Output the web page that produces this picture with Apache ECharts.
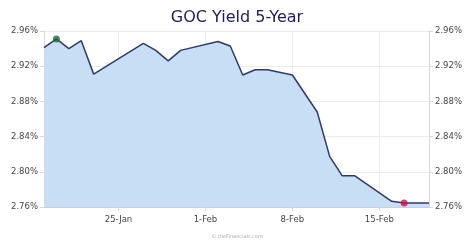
<!DOCTYPE html>
<html>
<head>
<meta charset="utf-8">
<script src="https://cdn.jsdelivr.net/npm/echarts@6/dist/echarts.min.js"></script>
<style>
  html, body { margin: 0; padding: 0; background: #fff; }
  #chart { width: 474px; height: 248px; }
</style>
</head>
<body>
<div id="chart"></div>
<script>
// GOC 5-year yield, daily closes
const dates = [
  '2026-01-19', '2026-01-20', '2026-01-21', '2026-01-22', '2026-01-23',
  '2026-01-27', '2026-01-28', '2026-01-29', '2026-01-30',
  '2026-02-02', '2026-02-03', '2026-02-04', '2026-02-05', '2026-02-06',
  '2026-02-08', '2026-02-10', '2026-02-11', '2026-02-12', '2026-02-13',
  '2026-02-16', '2026-02-17', '2026-02-19'
];
const yields = [
  2.941, 2.951, 2.940, 2.949, 2.911,
  2.946, 2.938, 2.926, 2.938,
  2.948, 2.943, 2.910, 2.916, 2.916,
  2.910, 2.868, 2.8175, 2.7956, 2.7956,
  2.7664, 2.7646, 2.7646
];
const xTickDates = ['2026-01-25', '2026-02-01', '2026-02-08', '2026-02-15'];
const xTickLabels = ['25-Jan', '1-Feb', '8-Feb', '15-Feb'];
const yTicks = [2.76, 2.80, 2.84, 2.88, 2.92, 2.96];

function dayNum(s) {
  return Math.round(Date.UTC(+s.slice(0, 4), +s.slice(5, 7) - 1, +s.slice(8, 10)) / 86400000);
}

const xs = dates.map(dayNum);
const xTickVals = xTickDates.map(dayNum);
const lineData = xs.map((x, i) => [x, yields[i]]);

const maxIdx = yields.indexOf(Math.max(...yields));
const minIdx = yields.indexOf(Math.min(...yields));

const labelFont = { color: '#444', fontSize: 8.5, fontFamily: 'DejaVu Sans' };

function yAxis(pos) {
  return {
    type: 'value',
    position: pos,
    min: yTicks[0],
    max: yTicks[yTicks.length - 1],
    interval: 0.04,
    axisLine: { show: true, lineStyle: { color: '#d8d8d8' } },
    axisTick: { show: true, length: 4, lineStyle: { color: '#d8d8d8' } },
    axisLabel: Object.assign({ margin: 6, formatter: v => v.toFixed(2) + '%' }, labelFont),
    splitLine: { show: pos === 'left', lineStyle: { color: '#ececec' } }
  };
}

const chart = echarts.init(document.getElementById('chart'));
chart.setOption({
  animation: false,
  title: {
    text: 'GOC Yield 5-Year',
    left: 'center',
    top: 5,
    textStyle: { color: '#1c1c5e', fontSize: 16, fontWeight: 'normal', fontFamily: 'DejaVu Sans' }
  },
  grid: { left: 44, right: 45, top: 31, bottom: 41 },
  xAxis: {
    type: 'value',
    min: xs[0],
    max: xs[xs.length - 1],
    axisLine: { show: true, lineStyle: { color: '#cfcfcf' } },
    axisTick: { show: true, length: 4, customValues: xTickVals, lineStyle: { color: '#d8d8d8' } },
    axisLabel: Object.assign({
      margin: 8,
      customValues: xTickVals,
      formatter: v => xTickLabels[xTickVals.indexOf(v)]
    }, labelFont),
    splitLine: { show: true, lineStyle: { color: '#ececec' } }
  },
  yAxis: [yAxis('left'), yAxis('right')],
  series: [
    {
      type: 'line',
      data: lineData,
      symbol: 'none',
      lineStyle: { color: '#2e3a6e', width: 1.5 },
      areaStyle: { color: '#c8def5', opacity: 1 },
      z: 2
    },
    {
      type: 'scatter',
      data: [
        { value: lineData[maxIdx], itemStyle: { color: '#1e6b35' } },
        { value: lineData[minIdx], itemStyle: { color: '#d0103a' } }
      ],
      symbolSize: 7,
      z: 3
    }
  ],
  graphic: [{
    type: 'text',
    left: 'center',
    top: 234,
    style: { text: '© theFinancials.com', fill: '#aaa', fontSize: 5, fontFamily: 'DejaVu Sans' }
  }]
});
</script>
</body>
</html>
